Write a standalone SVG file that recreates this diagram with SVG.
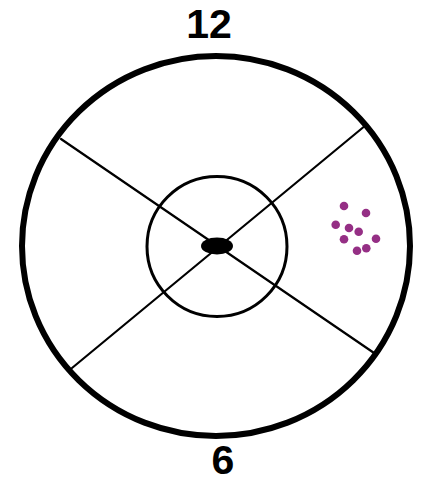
<svg xmlns="http://www.w3.org/2000/svg" width="424" height="483" viewBox="0 0 424 483">
<style>
.lbl{font-family:"Liberation Sans",Arial,sans-serif;font-weight:bold;font-size:41px;fill:#000;text-anchor:middle}
.ring{fill:none;stroke:#000}
.spoke{stroke:#000;stroke-width:2.2;stroke-linecap:round}
.dot{fill:#952f85}
</style>
<rect width="424" height="483" fill="#fff"/>
<g id="connectors">
<line class="spoke" x1="61" y1="139" x2="377" y2="355"/>
<line class="spoke" x1="366" y1="125" x2="72" y2="368"/>
</g>
<g id="outer"><ellipse class="ring" cx="216" cy="246" rx="194" ry="190" stroke-width="6"/></g>
<g id="inner"><circle class="ring" cx="217" cy="246.5" r="70" stroke-width="3"/></g>
<g id="center"><ellipse cx="217" cy="246" rx="16" ry="8.5" fill="#000"/></g>
<g id="dots">
<circle class="dot" cx="344" cy="206" r="4.3"/>
<circle class="dot" cx="366" cy="213" r="4.3"/>
<circle class="dot" cx="335.7" cy="224.7" r="4.3"/>
<circle class="dot" cx="349" cy="228" r="4.3"/>
<circle class="dot" cx="358.7" cy="231.7" r="4.3"/>
<circle class="dot" cx="344" cy="239.3" r="4.3"/>
<circle class="dot" cx="376" cy="238.7" r="4.3"/>
<circle class="dot" cx="357" cy="250.7" r="4.3"/>
<circle class="dot" cx="366.3" cy="248.3" r="4.3"/>
</g>
<g id="label12"><text class="lbl" x="209" y="38">12</text></g>
<g id="label6"><text class="lbl" x="223" y="474" font-size="40">6</text></g>
</svg>
